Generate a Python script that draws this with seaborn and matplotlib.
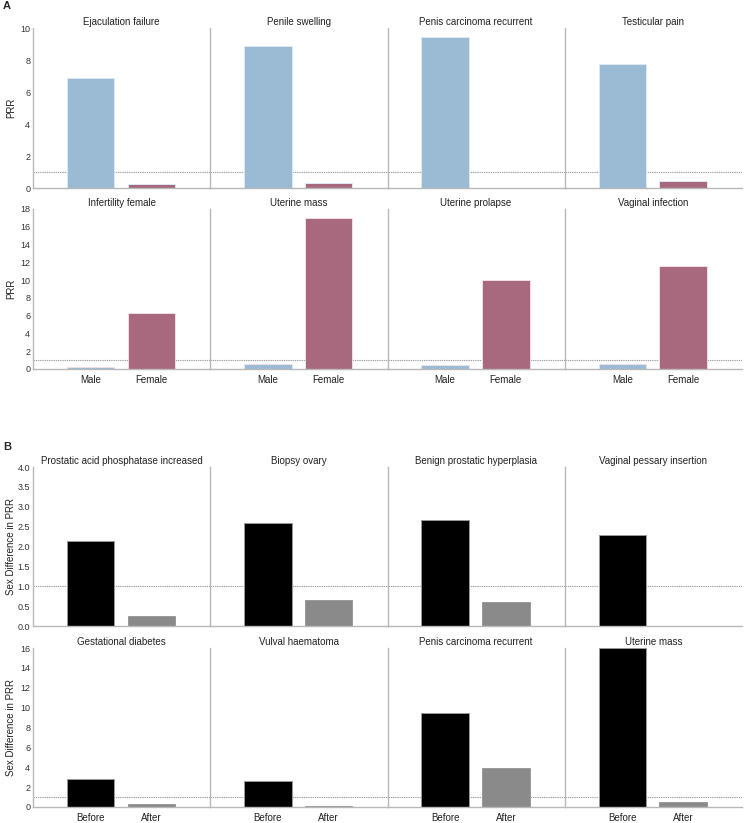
import numpy as np
import pandas as pd
import matplotlib
matplotlib.use("Agg")
import matplotlib.pyplot as plt
import seaborn as sns

sns.set_theme(style="white")
plt.rcParams['font.family'] = ['Liberation Sans', 'DejaVu Sans']

# ---------------- Data ----------------
sexes = ["Male", "Female"]
a_row1_titles = ["Ejaculation failure", "Penile swelling", "Penis carcinoma recurrent", "Testicular pain"]
a_row1_male = [6.86, 8.85, 9.41, 7.76]
a_row1_female = [0.27, 0.30, np.nan, 0.42]

a_row2_titles = ["Infertility female", "Uterine mass", "Uterine prolapse", "Vaginal infection"]
a_row2_male = [0.19, 0.60, 0.45, 0.60]
a_row2_female = [6.34, 16.99, 10.05, 11.63]

stages = ["Before", "After"]
b_row1_titles = ["Prostatic acid phosphatase increased", "Biopsy ovary", "Benign prostatic hyperplasia", "Vaginal pessary insertion"]
b_row1_before = [2.13, 2.60, 2.67, 2.28]
b_row1_after = [0.24, 0.65, 0.60, np.nan]

b_row2_titles = ["Gestational diabetes", "Vulval haematoma", "Penis carcinoma recurrent", "Uterine mass"]
b_row2_before = [2.81, 2.64, 9.41, 16.0]
b_row2_after = [0.30, 0.07, 3.88, 0.54]

a_row1_yticks = [0, 2, 4, 6, 8, 10]
a_row2_yticks = [0, 2, 4, 6, 8, 10, 12, 14, 16, 18]
b_row1_yticks = [0.0, 0.5, 1.0, 1.5, 2.0, 2.5, 3.0, 3.5, 4.0]
b_row2_yticks = [0, 2, 4, 6, 8, 10, 12, 14, 16]

# ---------------- Styling ----------------
sex_colors = {"Male": "#9bbbd4", "Female": "#a8697f"}
stage_colors = {"Before": "#000000", "After": "#8a8a8a"}
spine_col = "#b8b8b8"

W, H = 744, 823
fig = plt.figure(figsize=(W / 100, H / 100), dpi=100)

def make_row(top_px, bot_px, left_px, right_px):
    axes = []
    width = (right_px - left_px) / 4
    for i in range(4):
        l = left_px + i * width
        ax = fig.add_axes([l / W, 1 - bot_px / H, width / W, (bot_px - top_px) / H])
        axes.append(ax)
    return axes

def draw_row(axes, titles, s1, s2, cats, colors, yticks, ylabel, show_x, fmt, edge):
    for i, ax in enumerate(axes):
        df = pd.DataFrame({"cat": cats, "val": [s1[i], s2[i]]}).dropna()
        sns.barplot(data=df, x="cat", y="val", hue="cat", order=cats, hue_order=cats,
                    palette=colors, width=0.78, ax=ax, legend=False,
                    edgecolor=edge, linewidth=0.7, saturation=1)
        ax.axhline(1, color="#a0a0a0", lw=0.8, ls=(0, (1.2, 0.8)), zorder=0.5)
        ax.set_xlim(-0.95, 1.97)
        ax.set_ylim(yticks[0], yticks[-1])
        ax.set_title(titles[i], fontsize=7, pad=2.5, color="#222222")
        ax.set_xlabel("")
        for s in ["top", "right"]:
            ax.spines[s].set_visible(False)
        ax.spines["left"].set_color(spine_col)
        ax.spines["bottom"].set_color(spine_col)
        ax.spines["left"].set_linewidth(1.0)
        ax.spines["bottom"].set_linewidth(1.0)
        ax.tick_params(axis="both", length=0, labelsize=6.5, colors="#333333", pad=2)
        if show_x:
            ax.set_xticks([0, 1])
            ax.set_xticklabels(cats, fontsize=7, color="#222222")
            ax.tick_params(axis="x", pad=4)
        else:
            ax.set_xticks([])
        ax.set_yticks(yticks)
        if i == 0:
            ax.set_yticklabels([fmt.format(t) for t in yticks])
            ax.set_ylabel(ylabel, fontsize=7, color="#222222")
            ax.yaxis.set_label_coords(-0.095, 0.5)
        else:
            ax.set_yticklabels([])
            ax.set_ylabel("")

a1 = make_row(28, 188, 33, 742)
a2 = make_row(209, 369, 33, 742)
b1 = make_row(467, 626, 33, 742)
b2 = make_row(648, 807, 33, 742)

draw_row(a1, a_row1_titles, a_row1_male, a_row1_female, sexes, sex_colors, a_row1_yticks, "PRR", False, "{:g}", "#dfe9f1")
draw_row(a2, a_row2_titles, a_row2_male, a_row2_female, sexes, sex_colors, a_row2_yticks, "PRR", True, "{:g}", "#efe0e5")
draw_row(b1, b_row1_titles, b_row1_before, b_row1_after, stages, stage_colors, b_row1_yticks, "Sex Difference in PRR", False, "{:.1f}", "#999999")
draw_row(b2, b_row2_titles, b_row2_before, b_row2_after, stages, stage_colors, b_row2_yticks, "Sex Difference in PRR", True, "{:g}", "#999999")

fig.text(3 / W, 1 - 6 / H, "A", fontsize=8, fontweight="bold", ha="left", va="center")
fig.text(3 / W, 1 - 447 / H, "B", fontsize=8, fontweight="bold", ha="left", va="center")

fig.savefig("out.png", dpi=100, facecolor="white")
